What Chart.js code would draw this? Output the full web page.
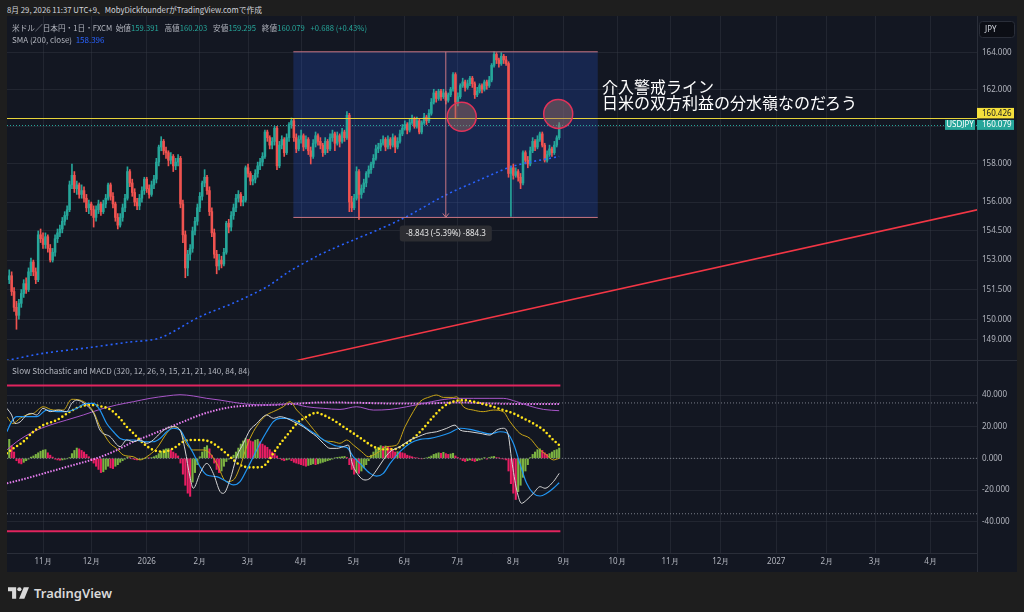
<!DOCTYPE html>
<html>
<head>
<meta charset="utf-8">
<script src="https://cdn.jsdelivr.net/npm/chart.js@4.4.0/dist/chart.umd.min.js"></script>
<style>
  body { margin: 0; width: 1024px; height: 612px; background: #1e1e1e; overflow: hidden; position: relative;
         font-family: "Noto Sans CJK JP", "Noto Sans", sans-serif; }
  canvas { position: absolute; }
  .txt { position: absolute; white-space: nowrap; font-size: 8px; line-height: 11px; color: #d1d4dc; transform-origin: 0 50%; }
  .leg { font-size: 8px; color: #b2b5be; }
  .k { color: #b2b5be; }
  .v { color: #26a69a; margin-right: 6px; }
  .note { position: absolute; left: 602px; top: 78px; color: #fff; font-size: 16px; line-height: 16px; white-space: nowrap; }
  #frame { position: absolute; left: 7px; top: 16px; width: 1010px; height: 556px; background: #131722; }
  .line { position: absolute; background: #2a2e39; }
  #logo { position: absolute; left: 8px; top: 584px; display: flex; align-items: center; color: #d9d9d9;
          font-family: "Noto Sans", sans-serif; font-size: 13px; font-weight: 600; }
</style>
</head>
<body>
<div class="txt" id="hdr" style="left:7px;top:4px;color:#d1d4dc">8月 29, 2026 11:37 UTC+9、MobyDickfounderがTradingView.comで作成</div>
<div id="frame"></div>
<canvas id="pc" width="1010" height="344" style="left:7px;top:16px"></canvas>
<div class="line" style="left:7px;top:360px;width:1010px;height:1px"></div>
<canvas id="ic" width="1010" height="211" style="left:7px;top:361px"></canvas>
<div class="line" style="left:977px;top:553px;width:1px;height:19px"></div>

<div class="txt leg" id="leg1" style="left:12px;top:21.5px">米ドル／日本円・1日・FXCM&nbsp; <span class="k">始値</span><span class="v">159.391</span><span class="k">高値</span><span class="v">160.203</span><span class="k">安値</span><span class="v">159.295</span><span class="k">終値</span><span class="v">160.079</span><span class="v">+0.688 (+0.43%)</span></div>
<div class="txt leg" style="left:12px;top:34px"><span class="k">SMA (200, close)&nbsp; </span><span style="color:#2962ff">158.396</span></div>
<div class="txt k" id="ttl" style="left:12px;top:364.5px">Slow Stochastic and MACD (320, 12, 26, 9, 15, 21, 21, 140, 84, 84)</div>
<div class="note">介入警戒ライン<br>日米の双方利益の分水嶺なのだろう</div>

<div id="logo">
  <svg width="21" height="12" viewBox="0 0 36 20" style="margin-right:5px">
    <path d="M0 0h14v20H7V7H0z" fill="#d9d9d9"/>
    <circle cx="19.5" cy="3.6" r="3.6" fill="#d9d9d9"/>
    <path d="M27 0h9l-8 20h-9z" fill="#d9d9d9"/>
  </svg>TradingView
</div>

<script>
// daily bars, index 0 = 2025-11-03, one step per weekday
const firstBar = -14;
const opens = [
  152.0,152.2,151.4,150.6,150.2,150.8,151.3,151.8,151.5,152.4,
  152.9,152.4,152.0,154.3,154.1,153.8,154.2,153.6,153.0,153.4,
  154.1,154.4,154.6,155.0,155.3,155.6,156.9,157.4,156.7,156.9,
  156.4,156.6,156.2,155.7,155.9,155.6,155.2,155.6,155.9,155.5,
  155.9,156.2,156.9,156.3,155.9,155.2,154.8,155.2,155.7,156.2,
  157.6,157.0,156.5,156.0,155.8,156.2,156.6,157.2,156.7,156.4,
  156.9,157.2,158.1,158.9,159.2,158.7,158.6,158.2,158.4,157.9,
  158.1,158.3,155.9,154.3,152.6,153.3,153.6,154.5,155.0,155.7,
  156.3,157.0,157.3,156.6,155.5,154.4,153.3,152.7,153.0,152.8,
  153.4,154.9,154.7,155.3,155.7,156.2,156.4,156.0,156.1,157.8,
  157.5,157.1,157.2,157.5,157.9,158.1,158.4,159.7,159.4,159.0,
  159.2,159.9,157.9,159.0,159.3,158.6,159.4,160.1,160.3,159.4,
  158.8,159.3,159.5,158.9,159.3,158.7,158.4,159.1,159.5,159.2,
  159.0,158.6,159.2,158.8,159.4,159.6,159.1,159.5,159.2,159.7,
  159.4,160.6,156.0,155.7,156.2,157.6,156.4,156.7,157.0,157.5,
  157.7,158.0,158.3,158.8,158.9,159.1,159.3,158.9,159.3,159.0,
  159.4,158.9,159.2,159.6,159.9,160.1,159.8,160.2,160.4,160.0,
  160.3,159.7,160.2,160.5,160.3,160.7,161.3,161.8,161.5,161.9,
  161.6,161.8,161.4,161.7,162.0,162.8,161.3,161.6,162.2,162.4,
  162.1,162.3,162.6,162.3,161.7,161.9,162.2,162.0,162.4,162.2,
  162.5,163.3,163.9,163.6,163.4,163.8,163.6,163.4,157.5,157.8,
  157.4,157.6,157.3,157.0,158.6,158.2,158.0,158.7,159.2,158.9,
  159.3,159.6,159.0,158.2,158.5,158.8,158.6,159.0,159.391
];
const highs = [
  152.5,152.4,151.6,150.9,151.0,151.5,152.0,152.1,152.6,153.1,
  153.0,152.6,154.5,154.6,154.4,154.4,154.3,153.8,153.6,154.3,
  154.6,154.8,155.2,155.5,155.8,157.1,158.0,157.6,157.1,157.0,
  156.9,156.8,156.4,156.1,156.0,155.8,155.8,156.1,156.0,156.1,
  156.4,157.0,157.0,156.5,156.0,155.4,155.4,155.9,156.4,157.85,
  157.7,157.2,156.7,156.2,156.4,156.8,157.3,157.3,156.9,157.1,
  157.4,158.3,159.0,159.45,159.3,158.9,158.7,158.6,158.5,158.3,
  158.5,158.4,156.1,154.5,153.5,153.8,154.7,155.2,155.9,156.5,
  157.1,157.7,157.4,156.8,155.7,154.6,153.5,153.3,153.2,153.6,
  155.0,155.1,155.5,155.9,156.4,156.6,156.5,156.3,157.9,158.0,
  157.6,157.4,157.7,158.1,158.3,158.6,159.8,159.8,159.5,159.4,
  160.0,160.0,159.2,159.5,159.4,159.6,160.2,160.45,160.4,159.6,
  159.5,159.8,159.6,159.5,159.4,158.9,159.3,159.7,159.6,159.4,
  159.1,159.4,159.3,159.6,159.8,159.7,159.7,159.6,159.9,159.8,
  160.8,160.7,156.3,156.4,157.85,157.7,156.9,157.2,157.6,157.9,
  158.1,158.5,159.0,159.1,159.3,159.5,159.4,159.5,159.4,159.6,
  159.5,159.4,159.8,160.1,160.3,160.2,160.4,160.6,160.5,160.5,
  160.4,160.3,160.7,160.6,160.9,161.5,162.0,161.9,162.0,162.0,
  162.0,161.9,161.8,162.1,162.9,162.9,161.8,162.3,162.6,162.5,
  162.5,162.7,162.7,162.4,162.1,162.3,162.3,162.5,162.5,162.7,
  163.4,164.04,164.0,163.7,164.0,163.9,163.8,163.5,157.9,158.0,
  157.8,157.7,157.5,158.7,158.7,158.4,158.9,159.4,159.3,159.5,
  159.7,159.7,159.1,158.7,159.0,158.9,159.2,159.5,160.203
];
const lows = [
  151.8,151.2,150.4,149.5,150.0,150.6,151.1,151.3,151.4,152.2,
  152.2,151.8,151.9,153.9,153.6,153.6,153.4,152.9,152.9,153.2,
  153.9,154.2,154.4,154.8,155.1,155.5,156.7,156.5,156.4,156.2,
  156.2,156.0,155.5,155.4,155.3,154.7,155.0,155.4,155.3,155.4,
  155.7,156.1,156.1,155.7,155.0,154.6,154.7,155.0,155.5,156.1,
  156.8,156.3,155.8,155.6,155.6,156.0,156.4,156.5,156.2,156.3,
  156.7,157.0,157.9,158.7,158.5,158.3,157.9,158.0,157.6,157.7,
  157.9,155.7,153.9,152.1,152.2,153.0,153.4,154.3,154.8,155.5,
  156.1,156.8,156.4,155.3,154.2,153.1,152.3,152.5,152.6,152.7,
  153.3,154.4,154.5,155.1,155.5,156.0,155.8,155.8,156.0,157.3,
  156.9,156.9,157.0,157.3,157.7,157.9,158.3,159.2,158.8,158.8,
  159.0,157.7,157.8,158.8,158.4,158.5,159.2,159.9,159.2,158.6,
  158.7,159.1,158.7,158.8,158.5,158.0,158.3,158.9,159.0,158.8,
  158.4,158.5,158.6,158.7,159.2,158.7,159.0,158.9,159.1,159.2,
  159.3,155.5,155.5,155.6,156.1,155.1,156.2,156.5,156.8,157.3,
  157.5,157.8,158.2,158.6,158.7,159.0,158.7,158.8,158.8,158.9,
  158.6,158.8,159.1,159.5,159.8,159.6,159.7,160.1,159.9,159.9,
  159.6,159.6,160.1,160.1,160.2,160.6,161.2,161.3,161.4,161.4,
  161.5,161.2,161.3,161.6,161.9,160.45,161.1,161.5,162.1,161.9,
  162.0,162.2,162.1,161.5,161.6,161.8,161.8,161.9,162.0,162.1,
  162.4,163.2,163.4,163.2,163.3,163.4,163.3,157.3,155.25,157.2,
  157.3,157.1,156.7,156.9,158.0,157.8,157.9,158.6,158.7,158.8,
  159.2,158.9,158.1,158.1,158.4,158.4,158.5,158.9,159.295
];
const closes = [
  152.2,151.4,150.6,150.2,150.8,151.3,151.8,151.5,152.4,152.9,
  152.4,152.0,154.3,154.1,153.8,154.2,153.6,153.0,153.4,154.1,
  154.4,154.6,155.0,155.3,155.6,156.9,157.4,156.7,156.9,156.4,
  156.6,156.2,155.7,155.9,155.6,155.2,155.6,155.9,155.5,155.9,
  156.2,156.9,156.3,155.9,155.2,154.8,155.2,155.7,156.2,157.6,
  157.0,156.5,156.0,155.8,156.2,156.6,157.2,156.7,156.4,156.9,
  157.2,158.1,158.9,159.2,158.7,158.6,158.2,158.4,157.9,158.1,
  158.3,155.9,154.3,152.6,153.3,153.6,154.5,155.0,155.7,156.3,
  157.0,157.3,156.6,155.5,154.4,153.3,152.7,153.0,152.8,153.4,
  154.9,154.7,155.3,155.7,156.2,156.4,156.0,156.1,157.8,157.5,
  157.1,157.2,157.5,157.9,158.1,158.4,159.7,159.4,159.0,159.2,
  159.9,157.9,159.0,159.3,158.6,159.4,160.1,160.3,159.4,158.8,
  159.3,159.5,158.9,159.3,158.7,158.4,159.1,159.5,159.2,159.0,
  158.6,159.2,158.8,159.4,159.6,159.1,159.5,159.2,159.7,159.4,
  160.6,156.0,155.7,156.2,157.6,156.4,156.7,157.0,157.5,157.7,
  158.0,158.3,158.8,158.9,159.1,159.3,158.9,159.3,159.0,159.4,
  158.9,159.2,159.6,159.9,160.1,159.8,160.2,160.4,160.0,160.3,
  159.7,160.2,160.5,160.3,160.7,161.3,161.8,161.5,161.9,161.6,
  161.8,161.4,161.7,162.0,162.8,161.3,161.6,162.2,162.4,162.1,
  162.3,162.6,162.3,161.7,161.9,162.2,162.0,162.4,162.2,162.5,
  163.3,163.9,163.6,163.4,163.8,163.6,163.4,157.5,157.8,157.4,
  157.6,157.3,157.0,158.6,158.2,158.0,158.7,159.2,158.9,159.3,
  159.6,159.0,158.2,158.5,158.8,158.6,159.0,159.391,160.079
];

// SMA(200): [bar, price]
const sma200 = [[-15,147.95],[0,148.3],[20,148.6],[35,148.85],[48.5,149.07],[65,150.13],[79,150.82],
  [93,151.65],[102,152.41],[114,153.23],[119,153.52],[148,155.07],[167,156.37],[181,157.16],[195,157.89],[214,158.396]];
// red trend line (two anchors)
const trendLine = [[100,147.81],[390,155.67]];

// oscillator pane
const macdHist = [
  12,8,4,-1.5,-3,-3.5,-2.5,-1.5,-0.5,0.8,
  1.5,2.5,3.5,4.5,5.2,5.5,3.5,2,0.8,-0.5,
  -1,-1.2,-1,-0.6,-0.3,0.5,3,5,6.5,6,
  5,4,2.5,1,-1.5,-3,-5,-7,-9,-8.5,
  -7,-5,-6,-6.5,-5,-4,-2.5,-1.5,-0.5,0.8,
  0.5,-0.3,-0.8,-1,-0.8,-0.4,0,0.3,0.2,0.5,
  1,1.8,3,4.5,5.5,6,6.2,5.5,4,3,
  1.5,-3,-10,-17,-22,-24,-15,-9,-4,1,
  4,7,8,6,2,-3,-7,-9,-8,-5,
  -2,-0.5,0.5,2,4,6.5,9,11,12.5,12,
  11,10.5,11.5,12,10.5,9,8,7,5.5,4,
  3,1.5,0,-1,-1.5,-1,-0.5,-1.5,-2.5,-3,
  -3.5,-4,-4.5,-5,-4.5,-4,-3.5,-4,-3.5,-3,
  -2.5,-2,-1.5,-1,-0.5,0.3,0.6,0.8,1,1.2,
  0.5,-4,-7,-10,-9,-9.5,-8,-6,-4,-1.5,
  2,4,6,7,8,7.5,7.8,7,6.5,5,
  4,4.2,4,3.5,3,2,1.5,1,0.5,0.3,
  0,-0.3,0,0.3,0.8,1.5,2.5,3,3.5,3.2,
  3.8,3,2.5,2.8,3.2,1.5,0.5,-0.5,-1.5,-2,
  -1.5,-1,-1.5,-2,-1.5,-1,-0.5,0.5,-0.5,0.5,
  1,1.2,0.5,0.2,-0.3,-0.5,-1,-8,-16,-22,
  -26,-21,-17,-12,-8,-4,0.5,2.5,4,5.5,
  6,5,3.5,2.5,3,4,5,5.5,6.5
];
const stochWhite = [[-15,31.6],[-13,27.4],[-11.6,22],[-9.5,23],[-6.8,27.4],[-4.7,28.4],[-2.6,27.4],[0,31.6],[3,29.5],[6.4,30.5],
  [9.8,29.5],[11.9,34.7],[14,36.8],[16,35.8],[18,33.7],[21,28.4],[23.6,17.9],[27.8,13.7],[32,7.4],[34.7,11.6],[37.5,10.5],
  [40.2,11.6],[43,9.5],[45.7,11.6],[48.5,15.8],[51.3,19],[54,20],[56.8,17.9],[58.9,5.3],[60.9,-11.6],[62.3,-18.9],[65.1,-9.5],
  [67.9,-3.2],[70.6,-9.5],[73.4,-21],[74.8,-22.1],[77.5,-13.7],[80.3,1],[83.1,9.5],[85.8,17.9],[88.6,22],[91.3,26.3],[92.7,27.4],
  [95.5,25.3],[98.3,26.3],[101,25.3],[103.8,23.2],[107.9,20],[110.7,16.8],[113.5,13.7],[116.2,9.5],[119,6.3],[121.8,6.3],
  [124.5,7.4],[126.6,8.4],[128,-2.1],[130.7,-10.5],[133.5,-13.7],[135.6,-12.6],[138.3,-7.4],[141.1,-1],[143.9,4.2],[148,7.4],
  [152.2,11.6],[155.6,13.7],[159.1,15.8],[163.2,16.8],[167.4,19],[170.8,21],[172.9,17.9],[177,16.8],[181.2,15.8],[185.3,14.7],
  [188.1,17.9],[190.8,19],[192.9,14.7],[194.3,-1],[196.4,-20],[198.4,-28.4],[200.5,-26.3],[203.3,-22.1],[206.1,-17.9],
  [208.1,-18.9],[211.6,-14.7],[214,-9.5]];
const stochBlue = [[-15,16.8],[-13,23.2],[-10.9,26.3],[-6.8,26.3],[-2.6,26.3],[1.5,30.5],[5.7,29.5],[9.8,29.5],[14,31.6],[18,34.7],
  [21,34.7],[23.6,30.5],[26.4,22],[29.2,16.8],[32,12.6],[34.7,11.6],[37.5,11.6],[43,10.5],[45.7,10.5],[48.5,12.6],[51.3,16.8],
  [54,19],[56.8,17.9],[59.6,10.5],[62.3,3.2],[65.1,-5.3],[67.9,-10.5],[72,-11.6],[76.1,-14.7],[78.9,-16.8],[81.7,-14.7],
  [84.4,-7.4],[87.2,1],[90,9.5],[92.7,16.8],[95.5,23.2],[98.3,25.3],[101,25.3],[103.8,24.2],[106.6,22],[109.3,19],[113.5,14.7],
  [117.6,10.5],[121.8,7.8],[125.9,6.9],[128.7,1],[131.4,-3.2],[135.6,-9.5],[138.3,-11.2],[141.1,-9.5],[143.9,-3.2],[148,4.2],
  [152.2,9.5],[156.3,12],[160.5,12.6],[164.6,14.1],[168.7,16.2],[172.9,19],[177,18.3],[181.2,16.8],[185.3,15.4],[189.5,16.8],
  [192.2,16.2],[195,9.5],[197.7,-3.2],[200.5,-15.8],[203.3,-22.1],[206.1,-23.8],[208.8,-22.1],[211.6,-18.9],[214,-15.4]];
const stochGold = [[-15,26.3],[-12.5,22],[-9.5,25.3],[-6.8,27.4],[-4,28.4],[0.1,32.6],[4.3,30.5],[8.4,30.5],[11.9,37.3],[15.3,36.8],
  [20.9,29.5],[23.6,20],[27.8,9.5],[30.5,6.3],[33.3,2.1],[37.5,1],[40.2,-1],[43,1],[47.1,6.3],[51.3,15.8],[54,20],[56.8,17.9],
  [58.9,10.5],[62.3,5.3],[66.5,5.3],[69.2,3.2],[72,-3.2],[76.1,-14.7],[78.9,-13.7],[81.7,-5.3],[84.4,7.4],[87.2,16.8],[90,23.2],
  [92.7,27.4],[95.5,29.5],[99.6,32.6],[102.4,35.8],[105.2,30.5],[107.9,26.3],[110.7,21],[113.5,15.8],[116.2,11.6],[120.4,10.5],
  [123.1,9.5],[125.9,11.6],[128.7,8.4],[132.1,4.2],[134.9,1],[138.3,3.2],[142.5,7.4],[146.6,8.4],[150.1,20],[153.5,29.5],
  [156.3,35.8],[160.5,38.9],[163.2,40],[166,38.5],[170.1,38.5],[171.5,38.9],[174.3,32.6],[178.4,30.5],[182.5,29.5],[186.7,30.5],
  [190.8,29.5],[193.6,23.2],[197.7,15.8],[201.9,12.6],[205.4,6.3],[208.8,2.1],[211.6,-1],[214,0]];
const stochSlow = [[-15,3.2],[-12.3,6.3],[-8.2,10.5],[-4,16.8],[0.1,21],[5.7,24.2],[11.2,29.5],[15.3,32.6],[19.5,33.7],[23.6,33],
  [27.8,30.9],[31.9,25.3],[34.7,20],[37.5,15.8],[41.6,9.5],[45.7,5.3],[49.9,4.2],[54,6.3],[58.2,10.5],[61.6,11.6],[65.1,11.6],
  [69.2,10.5],[73.4,6.3],[77.5,1],[81.7,-4.2],[85.8,-5.7],[90,-5.7],[92.7,-3.2],[95.5,3.2],[99,10.5],[102.4,16.8],[105.2,22],
  [109.3,26.3],[113.5,28.8],[116.2,27.4],[120.4,24.2],[124.5,20],[128.7,15.8],[132.8,11.6],[137,7.4],[141.1,5.7],[145.3,5.7],
  [149.4,8.4],[153.5,12.6],[157.7,19],[161.8,26.3],[166,32.6],[170.1,35.8],[174.3,36.8],[178.4,35.8],[182.5,34.3],[186.7,32.6],
  [190.8,30.5],[195,28.4],[199.1,25.3],[203.3,22],[207.5,17.9],[211.6,11.6],[214,8.4]];
const longPurple = [[-15,5.3],[-10.9,10.5],[-4,16.8],[2.9,21],[9.8,24.2],[16.7,27.4],[23.6,30.9],[30.5,33.7],[37.5,35.8],[44.4,37.9],
  [51.3,39.4],[56.8,40.2],[62.3,39.4],[67.9,37.9],[73.4,36.8],[78.9,35.4],[84.4,34.3],[92.7,33.7],[99.6,34.1],[102.4,34.7],
  [109.3,32.6],[116.2,31.6],[123.1,30.9],[130,32.6],[137,30.5],[143.9,30.9],[150.8,32.6],[157.7,34.7],[164.6,36.8],[171.5,37.9],
  [178.4,37.9],[185.3,37.9],[190.8,37.9],[196.4,35.8],[201.9,33],[207.5,30.9],[214,30.1]];
const longPink = [[-15,-15.8],[-6.8,-12.6],[2.9,-8.4],[12.6,-4.2],[20.9,-0.6],[29.2,4.2],[37.5,10.5],[44.4,14.7],[51.3,19],
  [58.2,23.2],[65.1,27.4],[72,30.5],[78.9,32.6],[85.8,33.3],[92.7,33.7],[99.6,34.1],[106.6,34.7],[116.2,35.3],[130,35.1],
  [144,34.7],[158,34.7],[172,35.3],[186,34.7],[200,34.3],[214,34.3]];
const outerLevel = 46, innerLevel = 35;

// ticks
const priceTicks = [149, 150, 151.5, 153, 154.5, 156, 158, 160, 162, 164];
const oscTicks = [-40, -20, 0, 20, 40];
const monthBars = [0, 20, 43, 65, 85, 107, 129, 150, 172, 195, 216, 238, 260, 281, 304, 325, 345, 368];
const monthLabels = ['11月','12月','2026','2月','3月','4月','5月','6月','7月','8月','9月','10月','11月','12月','2027','2月','3月','4月'];

// drawings
const hLevel = 160.426;
const lastClose = 160.079;
const measureX = [103.8, 230, 167];     // box left, box right, arrow
const measureY = [164.043, 155.2];      // from, to
const circles = [[173.6, 160.52], [213.6, 160.67]];

// view window
const xMin = -14.93, xMax = 387.23;
const pMin = 147.97, pMax = 166.02;
const oMin = -59.8, oMax = 61.5;

const UP = '#26a69a', DOWN = '#ef5350';
const gridCol = 'rgba(54,58,69,0.45)';
const axisText = '#b2b5be';
Chart.defaults.font.family = '"Noto Sans", sans-serif';
Chart.defaults.font.size = 8;

// squeeze the header texts to the widths they take in the screenshot
[['hdr', 255], ['leg1', 361], ['ttl', 238]].forEach(([id, w]) => {
  const el = document.getElementById(id);
  el.style.transform = 'scaleX(' + (w / el.offsetWidth) + ')';
});

const barX = opens.map((o, i) => firstBar + i);
const candleCol = opens.map((o, i) => closes[i] >= o ? UP : DOWN);
const histCol = macdHist.map((v, i) => (i === 0 || v >= macdHist[i - 1]) ? '#7cb342' : '#e91e63');
const pts = arr => arr.map(p => ({ x: p[0], y: p[1] }));

const monthTicks = s => { s.ticks = monthBars.map(v => ({ value: v })); };
// fixed axis width, and no label padding pushed into the plot area
const fitRight = s => { s.width = 40; s.paddingTop = 0; s.paddingBottom = 0; };

const overlay = {
  id: 'overlay',
  beforeDatasetsDraw(chart) {
    const { ctx, chartArea: a, scales: { x, y } } = chart;
    ctx.save();
    ctx.beginPath(); ctx.rect(a.left, a.top, a.right - a.left, a.bottom - a.top); ctx.clip();
    const bx0 = x.getPixelForValue(measureX[0]), bx1 = x.getPixelForValue(measureX[1]);
    const by0 = y.getPixelForValue(measureY[0]), by1 = y.getPixelForValue(measureY[1]);
    ctx.fillStyle = 'rgba(41,98,255,0.2)';
    ctx.fillRect(bx0, by0, bx1 - bx0, by1 - by0);
    const yl = Math.round(y.getPixelForValue(lastClose)) + 0.5;
    ctx.strokeStyle = UP; ctx.lineWidth = 1; ctx.setLineDash([1, 2]);
    ctx.beginPath(); ctx.moveTo(a.left, yl); ctx.lineTo(a.right, yl); ctx.stroke();
    ctx.restore();
  },
  afterDatasetsDraw(chart) {
    const { ctx, chartArea: a, scales: { x, y } } = chart;
    ctx.save();
    ctx.beginPath(); ctx.rect(a.left, a.top, a.right - a.left, a.bottom - a.top); ctx.clip();
    const bx0 = x.getPixelForValue(measureX[0]), bx1 = x.getPixelForValue(measureX[1]);
    const by0 = y.getPixelForValue(measureY[0]), by1 = y.getPixelForValue(measureY[1]);
    const ax = x.getPixelForValue(measureX[2]);
    ctx.strokeStyle = '#c97583'; ctx.lineWidth = 1;
    ctx.beginPath();
    ctx.moveTo(bx0, by0); ctx.lineTo(bx1, by0);
    ctx.moveTo(bx0, by1); ctx.lineTo(bx1, by1);
    ctx.moveTo(ax, by0); ctx.lineTo(ax, by1);
    ctx.moveTo(ax - 3, by1 - 4); ctx.lineTo(ax, by1); ctx.lineTo(ax + 3, by1 - 4);
    ctx.stroke();

    // horizontal level
    const yh = Math.round(y.getPixelForValue(hLevel)) + 0.5;
    ctx.strokeStyle = '#e6d33a';
    ctx.beginPath(); ctx.moveTo(a.left, yh); ctx.lineTo(a.right, yh); ctx.stroke();

    // circles
    circles.forEach(c => {
      ctx.beginPath();
      ctx.arc(x.getPixelForValue(c[0]), y.getPixelForValue(c[1]), 14.5, 0, Math.PI * 2);
      ctx.fillStyle = 'rgba(160,110,100,0.45)'; ctx.fill();
      ctx.strokeStyle = '#e0335a'; ctx.lineWidth = 1.5; ctx.stroke();
    });

    // measure label
    const d = measureY[1] - measureY[0];
    const label = d.toFixed(3) + ' (' + (d / measureY[0] * 100).toFixed(2) + '%) ' + (d * 100).toFixed(1);
    ctx.font = '8px "Noto Sans"';
    const w = ctx.measureText(label).width + 12;
    ctx.fillStyle = 'rgba(45,46,52,0.95)';
    ctx.beginPath(); ctx.roundRect(ax - w / 2, by1 + 8, w, 16, 3); ctx.fill();
    ctx.fillStyle = '#e6e6e6'; ctx.textAlign = 'center'; ctx.textBaseline = 'middle';
    ctx.fillText(label, ax, by1 + 16.5);
    ctx.restore();
  },
  afterDraw(chart) {
    const { ctx, chartArea: a, scales: { y } } = chart;
    ctx.save();
    ctx.font = '8px "Noto Sans"'; ctx.textBaseline = 'middle';
    const tTop = y.getPixelForValue(lastClose) - 5;
    const yBot = Math.min(y.getPixelForValue(hLevel) + 5, tTop - 1.5);
    ctx.fillStyle = '#f5e03c'; ctx.fillRect(a.right, yBot - 10.5, 37, 10.5);
    ctx.fillStyle = '#131722'; ctx.textAlign = 'left'; ctx.fillText(hLevel.toFixed(3), a.right + 5, yBot - 5);
    ctx.fillStyle = UP; ctx.fillRect(a.right, tTop, 37, 10);
    ctx.fillStyle = '#fff'; ctx.fillText(lastClose.toFixed(3), a.right + 5, tTop + 5.3);
    ctx.fillStyle = UP; ctx.fillRect(a.right - 32, tTop, 30, 10);
    ctx.fillStyle = '#fff'; ctx.textAlign = 'center'; ctx.fillText('USDJPY', a.right - 17, tTop + 5.3);
    // currency box
    ctx.fillStyle = '#0c0e15'; ctx.strokeStyle = '#2a2e39'; ctx.lineWidth = 1;
    ctx.beginPath(); ctx.roundRect(a.right + 2.5, 5.5, 35, 16, 3); ctx.fill(); ctx.stroke();
    ctx.fillStyle = '#d1d4dc'; ctx.textAlign = 'left'; ctx.fillText('JPY', a.right + 8, 13.7);
    ctx.restore();
  }
};

const baseOpts = {
  responsive: false, animation: false,
  layout: { padding: 0, autoPadding: false },
  plugins: { legend: { display: false }, tooltip: { enabled: false } },
  datasets: { bar: { grouped: false } }
};

new Chart(document.getElementById('pc'), {
  type: 'bar',
  data: {
    datasets: [
      { type: 'line', data: pts(sma200), borderColor: '#2962ff', borderWidth: 1.6, borderDash: [2, 3],
        pointRadius: 0, tension: 0.3, order: 0, clip: 0 },
      { type: 'line', data: pts(trendLine), borderColor: '#f23645', borderWidth: 1.5, pointRadius: 0, order: 0, clip: 0 },
      { data: barX.map((x, i) => ({ x, y: [Math.min(opens[i], closes[i]), Math.max(opens[i], closes[i])] })),
        backgroundColor: candleCol, barThickness: 1.9, minBarLength: 1, order: 1, clip: 0 },
      { data: barX.map((x, i) => ({ x, y: [lows[i], highs[i]] })),
        backgroundColor: candleCol, barThickness: 1, order: 2, clip: 0 }
    ]
  },
  options: {
    ...baseOpts,
    scales: {
      x: { type: 'linear', min: xMin, max: xMax, offset: false, afterBuildTicks: monthTicks,
           ticks: { display: false }, grid: { color: gridCol, drawTicks: false, offset: false },
           border: { display: false }, afterFit: s => { s.height = 0; } },
      y: { type: 'logarithmic', position: 'right', min: pMin, max: pMax,
           afterBuildTicks: s => { s.ticks = priceTicks.map(v => ({ value: v })); },
           ticks: { color: axisText, padding: 5, callback: v => v === 160 ? '' : Number(v).toFixed(3) },
           grid: { color: gridCol, drawTicks: false }, border: { color: '#2a2e39' },
           afterFit: fitRight }
    }
  },
  plugins: [overlay]
});

const lvl = (v, x0, x1, color, width, dash, order) =>
  ({ type: 'line', data: [{ x: x0, y: v }, { x: x1, y: v }], borderColor: color, borderWidth: width,
     borderDash: dash, pointRadius: 0, order });
const osc = (arr, color, width, extra) =>
  Object.assign({ type: 'line', data: pts(arr), borderColor: color, borderWidth: width, pointRadius: 0,
    cubicInterpolationMode: 'monotone', clip: 0 }, extra);

new Chart(document.getElementById('ic'), {
  type: 'bar',
  data: {
    datasets: [
      osc(stochWhite, '#d6d6d6', 1, { order: 0 }),
      osc(stochBlue, '#2196f3', 1.2, { order: 1 }),
      osc(stochGold, '#c9a516', 1, { order: 2 }),
      osc(stochSlow, '#ffe31a', 2.6, { order: 3, borderDash: [0, 4.2], borderCapStyle: 'round' }),
      osc(longPurple, '#a855c8', 1, { order: 4 }),
      osc(longPink, '#e77ef0', 2, { order: 4, borderDash: [1.5, 1.5] }),
      lvl(outerLevel, firstBar - 1, 214.5, '#e0245e', 2, [], 6),
      lvl(-outerLevel, firstBar - 1, 214.5, '#e0245e', 2, [], 6),
      lvl(innerLevel, xMin, xMax, '#787b86', 1, [1, 2], 7),
      lvl(0, xMin, xMax, '#787b86', 1, [1, 2], 7),
      lvl(-innerLevel, xMin, xMax, '#787b86', 1, [1, 2], 7),
      { data: barX.map((x, i) => ({ x, y: macdHist[i] })), backgroundColor: histCol, barThickness: 1.4, order: 10 }
    ]
  },
  options: {
    ...baseOpts,
    scales: {
      x: { type: 'linear', min: xMin, max: xMax, offset: false, afterBuildTicks: monthTicks,
           ticks: { color: axisText, padding: 4, maxRotation: 0, autoSkip: false,
                    callback: (v, i) => monthLabels[i] },
           grid: { color: gridCol, drawTicks: false, offset: false }, border: { color: '#2a2e39' },
           afterFit: s => { s.height = 19; s.paddingLeft = 0; s.paddingRight = 0; } },
      y: { position: 'right', min: oMin, max: oMax,
           afterBuildTicks: s => { s.ticks = oscTicks.map(v => ({ value: v })); },
           ticks: { color: axisText, padding: 5, callback: v => Number(v).toFixed(3) },
           grid: { color: gridCol, drawTicks: false }, border: { color: '#2a2e39' },
           afterFit: fitRight }
    }
  }
});
</script>
</body>
</html>
